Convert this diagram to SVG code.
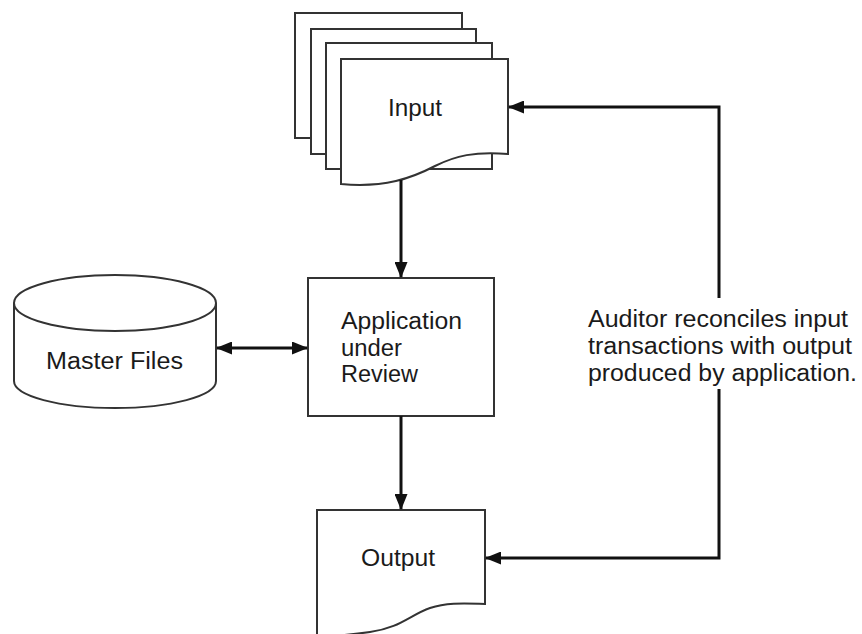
<svg xmlns="http://www.w3.org/2000/svg" width="862" height="634" viewBox="0 0 862 634">
  <style>
    .shape { fill: #ffffff; stroke: #333333; stroke-width: 2; }
    .conn { fill: none; stroke: #111111; stroke-width: 3; }
    .label { font-family: "Liberation Sans", Arial, Helvetica, sans-serif; font-size: 23px; fill: #1a1a1a; }
  </style>
  <defs>
    <marker id="arrow" markerUnits="userSpaceOnUse" markerWidth="16" markerHeight="13" refX="15" refY="6.5" orient="auto-start-reverse">
      <path d="M0,0 L16,6.5 L0,13 Z" fill="#111111"/>
    </marker>
  </defs>
  <rect width="862" height="634" fill="#ffffff"/>

  <g id="input">
    <rect class="shape" x="295" y="13" width="167" height="125"/>
    <rect class="shape" x="311" y="29" width="165" height="125"/>
    <rect class="shape" x="326" y="43" width="166" height="126"/>
    <path class="shape" d="M341,59 H508 V154 C475,151 455,156 435,166 C412,178 385,188 341,184 Z"/>
    <text class="label" x="388" y="116" textLength="54" lengthAdjust="spacingAndGlyphs">Input</text>
  </g>

  <g id="application">
    <rect class="shape" x="308" y="278" width="186" height="138"/>
    <text class="label" x="341" y="329" textLength="121" lengthAdjust="spacingAndGlyphs">Application</text>
    <text class="label" x="341" y="356" textLength="61" lengthAdjust="spacingAndGlyphs">under</text>
    <text class="label" x="341" y="382" textLength="77" lengthAdjust="spacingAndGlyphs">Review</text>
  </g>

  <g id="master-files">
    <path class="shape" d="M14,303 V381 A101,27 0 0 0 216,381 V303"/>
    <ellipse class="shape" cx="115" cy="303" rx="101" ry="28"/>
    <text class="label" x="46" y="369" textLength="137" lengthAdjust="spacingAndGlyphs">Master Files</text>
  </g>

  <g id="output">
    <path class="shape" d="M317,640 V510 H485 V604 C460,603 445,603 430,608 C410,615 400,628 370,632 C350,635 335,636 317,637"/>
    <text class="label" x="361" y="566" textLength="74" lengthAdjust="spacingAndGlyphs">Output</text>
  </g>

  <g id="note">
    <text class="label" x="588" y="327" textLength="260" lengthAdjust="spacingAndGlyphs">Auditor reconciles input</text>
    <text class="label" x="588" y="354" textLength="264" lengthAdjust="spacingAndGlyphs">transactions with output</text>
    <text class="label" x="588" y="381" textLength="269" lengthAdjust="spacingAndGlyphs">produced by application.</text>
  </g>

  <g id="connectors">
    <line class="conn" x1="401" y1="180" x2="401" y2="277" marker-end="url(#arrow)"/>
    <line class="conn" x1="401" y1="416" x2="401" y2="509" marker-end="url(#arrow)"/>
    <line class="conn" x1="217" y1="348" x2="307" y2="348" marker-start="url(#arrow)" marker-end="url(#arrow)"/>
    <polyline class="conn" points="719,298 719,107 509,107" marker-end="url(#arrow)"/>
    <polyline class="conn" points="719,389 719,558 486,558" marker-end="url(#arrow)"/>
  </g>
</svg>
